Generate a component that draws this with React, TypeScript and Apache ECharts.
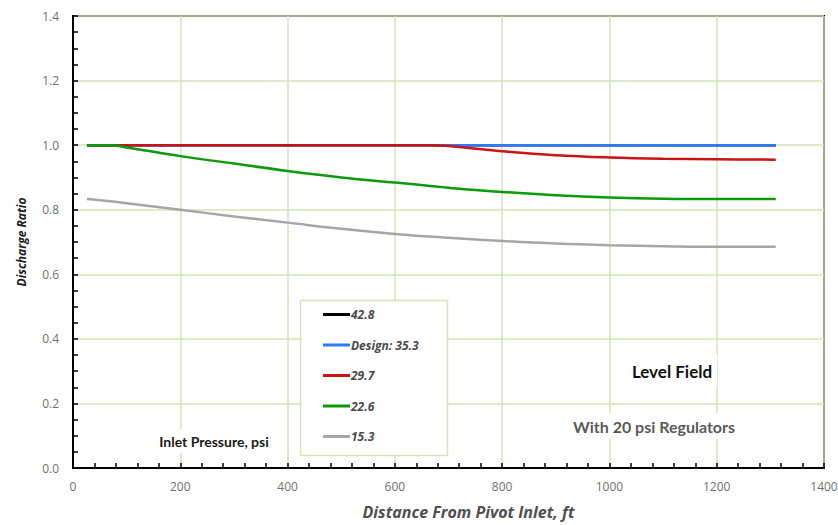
import React, { useEffect, useRef } from "react";
import * as echarts from "echarts";

// Distance from pivot inlet (ft)
const distance = [26, 70, 100, 200, 300, 400, 500, 600, 671, 700, 800, 900, 1000, 1100, 1200, 1310];

// Discharge ratio per inlet pressure
const p428 = [1, 1, 1, 1, 1, 1, 1, 1, 1, 1, 1, 1, 1, 1, 1, 1];
const p353 = [1, 1, 1, 1, 1, 1, 1, 1, 1, 1, 1, 1, 1, 1, 1, 1];
const p297 = [1, 1, 1, 1, 1, 1, 1, 1, 1, 0.997, 0.981, 0.969, 0.962, 0.958, 0.956, 0.955];
const p226 = [1, 1, 0.993, 0.966, 0.943, 0.92, 0.9, 0.884, 0.873, 0.868, 0.855, 0.845, 0.838, 0.834, 0.833, 0.833];
const p153 = [0.833, 0.826, 0.82, 0.8, 0.779, 0.76, 0.741, 0.725, 0.716, 0.713, 0.703, 0.695, 0.69, 0.687, 0.685, 0.685];

const seriesNames = ["42.8", "Design: 35.3", "29.7", "22.6", "15.3"];
const seriesValues = [p428, p353, p297, p226, p153];
const seriesColors = ["#000000", "#2b7bff", "#c81414", "#0a9a0a", "#a6a6a6"];

const xTicks = { min: 0, max: 1400, interval: 200 };
const yTicks = { min: 0, max: 1.4, interval: 0.2 };

const gridColor = "#d5e3b8";
const labelFont = "'Open Sans', sans-serif";

export default function App() {
  const ref = useRef<HTMLDivElement>(null);
  useEffect(() => {
    if (!ref.current) return;
    const chart = echarts.init(ref.current, undefined, { renderer: "svg" });
    chart.setOption({
      animation: false,
      backgroundColor: "#ffffff",
      grid: {
        left: 73,
        right: 14,
        top: 16,
        bottom: 57,
        show: true,
        borderColor: "#000",
        borderWidth: 2,
        backgroundColor: "transparent",
        containLabel: false,
        outerBoundsMode: "none",
      },
      xAxis: {
        type: "value",
        min: xTicks.min,
        max: xTicks.max,
        interval: xTicks.interval,
        name: "Distance From Pivot Inlet, ft",
        nameLocation: "middle",
        nameGap: 36,
        nameTextStyle: {
          fontFamily: labelFont,
          fontSize: 16,
          fontWeight: "bold",
          fontStyle: "italic",
          color: "#505050",
          padding: [0, 0, 0, 40],
        },
        axisLine: { lineStyle: { color: "#000", width: 2 } },
        axisTick: { inside: true, length: 5, lineStyle: { color: "#000", width: 1.5 } },
        minorTick: { show: true, splitNumber: 5, length: 5, lineStyle: { color: "#000", width: 1.5 } },
        splitLine: { show: true, lineStyle: { color: gridColor, width: 1.5 } },
        axisLabel: {
          fontFamily: labelFont,
          fontSize: 12,
          color: "#707070",
          margin: 12,
          formatter: (v: number) => String(v),
        },
      },
      yAxis: {
        type: "value",
        min: yTicks.min,
        max: yTicks.max,
        interval: yTicks.interval,
        name: "Discharge Ratio",
        nameLocation: "middle",
        nameGap: 46,
        nameTextStyle: {
          fontFamily: labelFont,
          fontSize: 12,
          fontWeight: "bold",
          fontStyle: "italic",
          color: "#202020",
        },
        axisLine: { show: true, lineStyle: { color: "#000", width: 2 } },
        axisTick: { show: true, inside: true, length: 5, lineStyle: { color: "#000", width: 1.5 } },
        minorTick: { show: true, splitNumber: 4, length: 5, lineStyle: { color: "#000", width: 1.5 } },
        splitLine: { show: true, lineStyle: { color: gridColor, width: 1.5 } },
        axisLabel: {
          fontFamily: labelFont,
          fontSize: 12,
          color: "#707070",
          margin: 14,
          formatter: (v: number) => v.toFixed(1),
        },
      },
      legend: {
        orient: "vertical",
        left: 318,
        top: 302,
        data: seriesNames,
        icon: "rect",
        itemWidth: 27,
        itemHeight: 3,
        itemGap: 15.5,
        z: 10,
        textStyle: {
          fontFamily: labelFont,
          fontSize: 12,
          lineHeight: 15,
          fontWeight: "bold",
          fontStyle: "italic",
          color: "#4a4a4a",
          padding: [0, 0, 0, -4],
        },
      },
      graphic: [
        {
          type: "rect",
          z: 5,
          shape: { x: 300.5, y: 300.5, width: 147, height: 155 },
          style: { fill: "#ffffff", stroke: gridColor, lineWidth: 1.5 },
        },
        {
          type: "text",
          z: 5,
          x: 672,
          y: 371,
          style: {
            text: "Level Field",
            font: "bold 17px Lato, sans-serif",
            fill: "#111111",
            align: "center",
            verticalAlign: "middle",
            backgroundColor: "#ffffff",
            padding: [8, 5],
          },
        },
        {
          type: "text",
          z: 5,
          x: 654,
          y: 426,
          style: {
            text: "With 20 psi Regulators",
            font: "bold 16px Lato, sans-serif",
            fill: "#5a5a5a",
            align: "center",
            verticalAlign: "middle",
            backgroundColor: "#ffffff",
            padding: [5, 4],
          },
        },
        {
          type: "text",
          z: 5,
          x: 214,
          y: 441,
          style: {
            text: "Inlet Pressure, psi",
            font: "bold 14px Lato, sans-serif",
            fill: "#1a1a1a",
            align: "center",
            verticalAlign: "middle",
            backgroundColor: "#ffffff",
            padding: [5, 4],
          },
        },
      ],
      series: seriesNames.map((name, i) => ({
        name,
        type: "line",
        data: distance.map((d, j) => [d, seriesValues[i][j]]),
        showSymbol: false,
        symbol: "none",
        smooth: 0.4,
        lineStyle: { color: seriesColors[i], width: 2.5 },
        itemStyle: { color: seriesColors[i] },
        z: 2 + i,
      })),
    });
    return () => chart.dispose();
  }, []);
  return <div ref={ref} style={{ position: "fixed", left: 0, top: 0, width: 838, height: 525 }} />;
}
